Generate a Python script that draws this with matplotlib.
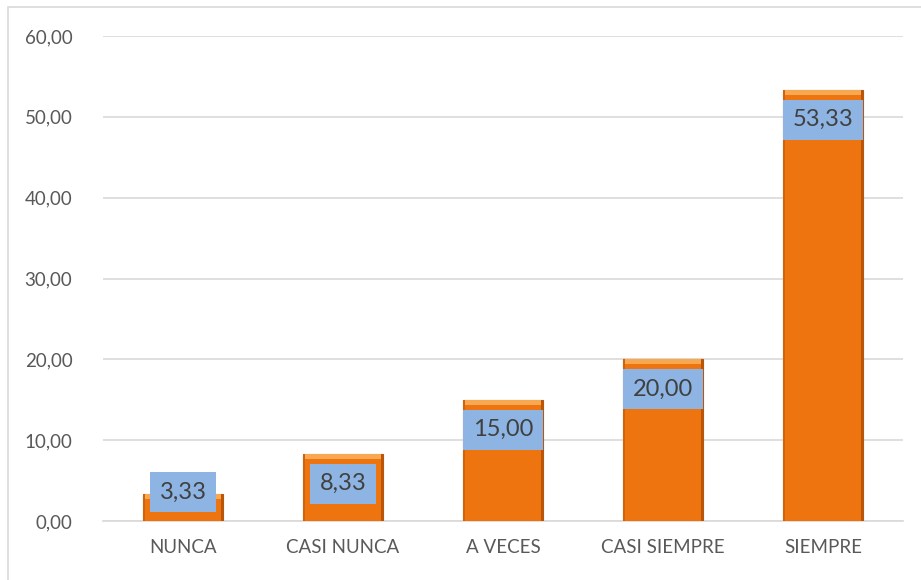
import matplotlib.pyplot as plt
from matplotlib.patches import Rectangle

# Datos
categorias = ['NUNCA', 'CASI NUNCA', 'A VECES', 'CASI SIEMPRE', 'SIEMPRE']
valores = [3.33, 8.33, 15.00, 20.00, 53.33]
ticks_y = [0, 10, 20, 30, 40, 50, 60]

plt.rcParams['font.family'] = ['Lato', 'DejaVu Sans']

fig = plt.figure(figsize=(9.21, 5.80), dpi=100)
ax = fig.add_axes([103 / 921, 59 / 580, 800 / 921, 485 / 580])

# Marco del gráfico
fig.patches.append(Rectangle((8 / 921, -0.05), 1.1, 1 - 7 / 580 + 0.05,
                             transform=fig.transFigure, fill=False,
                             edgecolor='#D9D9D9', linewidth=1.2))

x = list(range(len(categorias)))
ancho = 0.5
bars = ax.bar(x, valores, width=ancho, color='#EE7410', edgecolor='#B9560A',
              linewidth=0.8, zorder=3)

# Efecto bisel: franja clara arriba y bordes oscuros
for b in bars:
    x0, w, h = b.get_x(), b.get_width(), b.get_height()
    ax.add_patch(Rectangle((x0, h - 0.6), w, 0.6, facecolor='#F8A850',
                           edgecolor='none', zorder=4))
    ax.add_patch(Rectangle((x0, 0), 0.01, h, facecolor='#CF640D',
                           edgecolor='none', zorder=4))
    ax.add_patch(Rectangle((x0 + w - 0.01, 0), 0.01, h, facecolor='#B9560A',
                           edgecolor='none', zorder=4))

# Etiquetas de datos
for xi, v in zip(x, valores):
    y = max(v - 3.7, 3.6)
    ax.text(xi, y, f'{v:.2f}'.replace('.', ','), ha='center', va='center',
            fontsize=17, color='#404040', zorder=5,
            bbox=dict(boxstyle='square,pad=0.4', facecolor='#8DB4E2',
                      edgecolor='none'))

ax.set_xlim(-0.5, len(categorias) - 0.5)
ax.set_ylim(0, 60)
ax.set_yticks(ticks_y)
ax.set_yticklabels([f'{t:.2f}'.replace('.', ',') for t in ticks_y])
ax.set_xticks(x)
ax.set_xticklabels(categorias)
ax.tick_params(axis='both', length=0, labelsize=13.5, labelcolor='#595959')
ax.tick_params(axis='y', pad=22)
ax.tick_params(axis='x', pad=13)

ax.grid(axis='y', color='#D9D9D9', linewidth=1.2, zorder=0)
for s in ['top', 'right', 'left']:
    ax.spines[s].set_visible(False)
ax.spines['bottom'].set_color('#D9D9D9')
ax.spines['bottom'].set_linewidth(1.2)

fig.savefig('out.png', dpi=100)
